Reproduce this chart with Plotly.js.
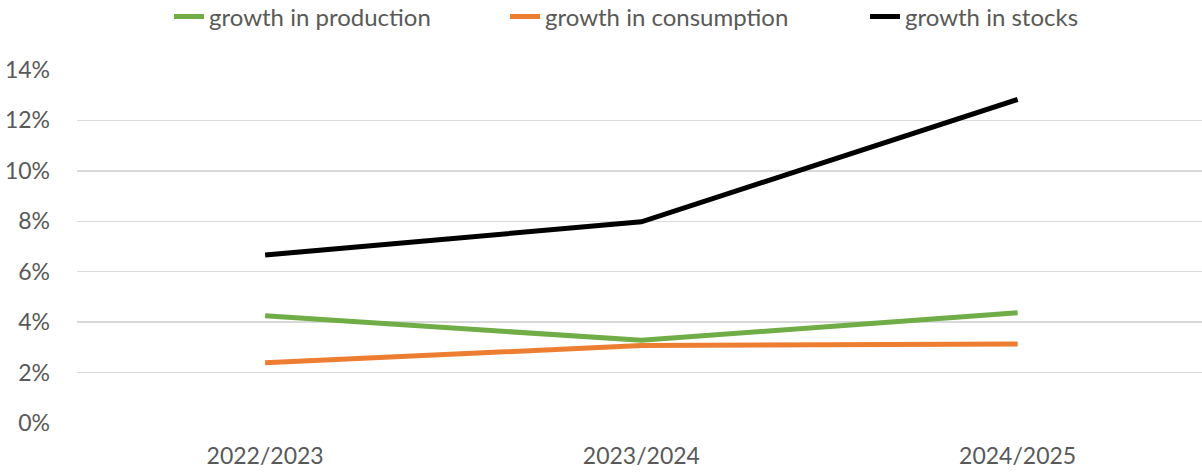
<!DOCTYPE html>
<html>
<head>
<meta charset="utf-8">
<script src="https://cdn.plot.ly/plotly-3.0.1.min.js"></script>
<style>html,body{margin:0;padding:0;background:#fff;}#chart{width:1202px;height:472px;}</style>
</head>
<body>
<div id="chart"></div>
<script>
const categories = ["2022/2023", "2023/2024", "2024/2025"];
const seriesNames = ["growth in production", "growth in consumption", "growth in stocks"];
const production = [4.25, 3.28, 4.37];
const consumption = [2.39, 3.07, 3.13];
const stocks = [6.66, 7.98, 12.83];
const yTickVals = [0, 2, 4, 6, 8, 10, 12, 14];
const yTickText = ["0%", "2%", "4%", "6%", "8%", "10%", "12%", "14%"];
const colors = ["#70ad47", "#ed7d31", "#000000"];

const font = "Lato, 'Open Sans', sans-serif";
const seriesValues = [production, consumption, stocks];
const legendIds = ['legend', 'legend2', 'legend3'];
const traces = seriesValues.map((vals, i) => ({
  type: 'scatter', mode: 'lines', x: categories, y: vals, name: seriesNames[i],
  line: {color: colors[i], width: 5}, legend: legendIds[i]
}));

function leg(xpx) {
  return {orientation: 'h', xref: 'container', x: xpx / 1202, xanchor: 'left',
          yref: 'container', y: 1 - 17 / 472, yanchor: 'middle',
          font: {size: 24, color: '#595959', family: font}, itemwidth: 30, bgcolor: 'rgba(0,0,0,0)'};
}

const layout = {
  width: 1202, height: 472,
  margin: {l: 77, r: 0, t: 70, b: 49},
  paper_bgcolor: '#fff', plot_bgcolor: '#fff',
  font: {family: font, color: '#595959', size: 23},
  showlegend: true,
  legend: leg(169), legend2: leg(505), legend3: leg(865),
  xaxis: {type: 'category', range: [-0.5, 2.49], showgrid: false, zeroline: false, showline: false,
          ticks: '', tickfont: {size: 23, color: '#595959'}, ticklabelstandoff: 17, fixedrange: true},
  yaxis: {range: [0, 14], tickvals: yTickVals, ticktext: yTickText, showgrid: true, gridcolor: '#d9d9d9',
          gridwidth: 1.5, zeroline: false, showline: false, ticks: '', tickfont: {size: 23, color: '#595959'},
          ticklabelstandoff: 26, fixedrange: true}
};
Plotly.newPlot('chart', traces, layout, {displayModeBar: false, staticPlot: true});
</script>
</body>
</html>
